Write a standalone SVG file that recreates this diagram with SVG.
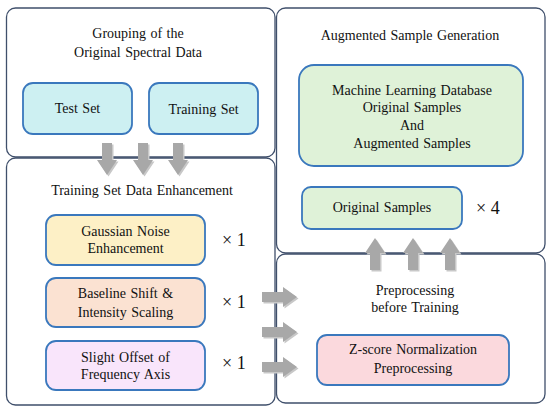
<svg xmlns="http://www.w3.org/2000/svg" width="550" height="410" viewBox="0 0 550 410">
<style>
.panel{fill:#ffffff;stroke:#3f4f6b;stroke-width:1.3}
.box{stroke:#3a78bd;stroke-width:1.8}
text{font-family:'Liberation Serif','Times New Roman',serif;font-size:14px;fill:#111111;text-anchor:middle;word-spacing:1px}
.mult{font-size:18px;text-anchor:start;word-spacing:0}
.arrow{fill:#a8a8a8}
.shadow{fill:#c8c8c8}
</style>
<defs>
<path id="aDown" d="M-5,0 H5 V17 H10 L0,32 L-10,17 H-5 Z"/>
<path id="aRight" d="M0,-5 H21 V-10 L35,0 L21,10 V5 H0 Z"/>
<path id="aUp" d="M-5,0 V-17 H-10 L0,-32 L10,-17 H5 V0 Z"/>
</defs>
<rect width="550" height="410" fill="#ffffff"/>
<g id="grouping">
<rect class="panel" x="6.5" y="8" width="268.5" height="149" rx="9"/>
<text x="138" y="38">Grouping of the</text>
<text x="138" y="57">Original Spectral Data</text>
</g>
<g id="test-set">
<rect class="box" x="23" y="83" width="109" height="51" rx="10" fill="#cdf0f2"/>
<text x="77.5" y="113">Test Set</text>
</g>
<g id="training-set">
<rect class="box" x="149" y="83" width="109" height="51" rx="10" fill="#cdf0f2"/>
<text x="203.5" y="114">Training Set</text>
</g>
<g id="enhancement">
<rect class="panel" x="6.5" y="158" width="268.5" height="247" rx="9"/>
<text x="142" y="195">Training Set Data Enhancement</text>
</g>
<g id="gaussian">
<rect class="box" x="46" y="215" width="159" height="50" rx="10" fill="#fdf0c6"/>
<text x="125.5" y="236">Gaussian Noise</text>
<text x="125.5" y="253">Enhancement</text>
<text class="mult" x="222" y="246">× 1</text>
</g>
<g id="baseline">
<rect class="box" x="46" y="278" width="159" height="49" rx="10" fill="#fbe2d2"/>
<text x="125.5" y="298">Baseline Shift &amp;</text>
<text x="125.5" y="317">Intensity Scaling</text>
<text class="mult" x="222" y="308">× 1</text>
</g>
<g id="offset">
<rect class="box" x="46" y="341" width="159" height="49" rx="10" fill="#f9e5fb"/>
<text x="125.5" y="362">Slight Offset of</text>
<text x="125.5" y="379">Frequency Axis</text>
<text class="mult" x="222" y="369">× 1</text>
</g>
<g id="augmented">
<rect class="panel" x="276.5" y="8" width="268.5" height="245" rx="9"/>
<text x="410" y="40">Augmented Sample Generation</text>
</g>
<g id="ml-database">
<rect class="box" x="299" y="65" width="224" height="101" rx="15" fill="#dff2d8"/>
<text x="412" y="95">Machine Learning Database</text>
<text x="412" y="112">Original Samples</text>
<text x="412" y="130">And</text>
<text x="412" y="148">Augmented Samples</text>
</g>
<g id="original-samples">
<rect class="box" x="302" y="187" width="160" height="42" rx="9" fill="#dff2d8"/>
<text x="382" y="212">Original Samples</text>
<text class="mult" x="476" y="214">× 4</text>
</g>
<g id="preprocessing">
<rect class="panel" x="276.5" y="254" width="268.5" height="149" rx="9"/>
<text x="415" y="295">Preprocessing</text>
<text x="415" y="312">before Training</text>
</g>
<g id="zscore">
<rect class="box" x="317" y="335" width="192" height="50" rx="10" fill="#fbd9dd"/>
<text x="413" y="354">Z-score Normalization</text>
<text x="413" y="373">Preprocessing</text>
</g>
<g id="connectors">
<use href="#aDown" class="shadow" transform="translate(108.5,144.5)"/>
<use href="#aDown" class="shadow" transform="translate(144.5,144.5)"/>
<use href="#aDown" class="shadow" transform="translate(179.5,144.5)"/>
<use href="#aDown" class="arrow" transform="translate(107,143)"/>
<use href="#aDown" class="arrow" transform="translate(143,143)"/>
<use href="#aDown" class="arrow" transform="translate(178,143)"/>
<use href="#aRight" class="shadow" transform="translate(263.5,298.5)"/>
<use href="#aRight" class="shadow" transform="translate(263.5,333.5)"/>
<use href="#aRight" class="shadow" transform="translate(263.5,368.5)"/>
<use href="#aRight" class="arrow" transform="translate(262,297)"/>
<use href="#aRight" class="arrow" transform="translate(262,332)"/>
<use href="#aRight" class="arrow" transform="translate(262,367)"/>
<use href="#aUp" class="shadow" transform="translate(376.5,271.5)"/>
<use href="#aUp" class="shadow" transform="translate(414.5,271.5)"/>
<use href="#aUp" class="shadow" transform="translate(451.5,271.5)"/>
<use href="#aUp" class="arrow" transform="translate(375,270)"/>
<use href="#aUp" class="arrow" transform="translate(413,270)"/>
<use href="#aUp" class="arrow" transform="translate(450,270)"/>
</g>
</svg>
